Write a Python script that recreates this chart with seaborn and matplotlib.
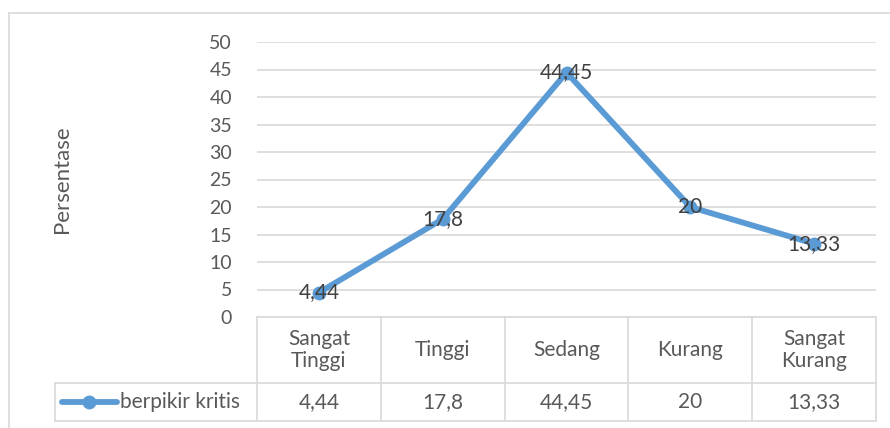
import numpy as np
import pandas as pd
import matplotlib
matplotlib.use("Agg")
import matplotlib.pyplot as plt
import matplotlib.transforms as mtransforms
from matplotlib.lines import Line2D
import seaborn as sns

# data
categories = ["Sangat\nTinggi", "Tinggi", "Sedang", "Kurang", "Sangat\nKurang"]
values = [4.44, 17.8, 44.45, 20, 13.33]
value_labels = ["4,44", "17,8", "44,45", "20", "13,33"]
series_name = "berpikir kritis"

line_color = "#5B9BD5"
grid_color = "#D9D9D9"
text_color = "#595959"

sns.set_theme(style="white")
plt.rcParams["font.family"] = ["Lato", "DejaVu Sans"]

df = pd.DataFrame({"kategori": categories, "nilai": values})

W, H = 890, 428
fig = plt.figure(figsize=(W / 100, H / 100), dpi=100)
left, right, top, bottom = 257, 876, 42, 317
ax = fig.add_axes([left / W, 1 - bottom / H, (right - left) / W, (bottom - top) / H])

sns.lineplot(data=df, x="kategori", y="nilai", ax=ax, color=line_color,
             linewidth=4.2, marker="o", markersize=10, markeredgewidth=0, sort=False)

ax.set_xlim(-0.5, len(categories) - 0.5)
ax.set_ylim(0, 50)
ax.set_yticks(range(0, 51, 5))
ax.yaxis.grid(True, color=grid_color, linewidth=1.2)
ax.xaxis.grid(False)
for s in ax.spines.values():
    s.set_visible(False)
ax.tick_params(axis="y", length=0, labelsize=14, labelcolor=text_color, pad=18)
ax.set_xticks([])
ax.set_xlabel("")
ax.set_ylabel("Persentase", fontsize=16, color=text_color)
ax.yaxis.set_label_coords((72 - left) / (right - left), 0.5)

fs = 15
# data labels centred on the points
for i, (v, lab) in enumerate(zip(values, value_labels)):
    ax.text(i, v, lab, ha="center", va="center", fontsize=fs, color="#404040")

# data table under the chart
px_per_unit = (right - left) / len(categories)
ax_h = bottom - top
tr = mtransforms.blended_transform_factory(ax.transData, ax.transAxes)
y_head = 0.0
y_mid = -(383 - bottom) / ax_h
y_bot = -(421 - bottom) / ax_h
x0 = -0.5
x_leg = x0 - (left - 55) / px_per_unit
x_end = len(categories) - 0.5

def tline(xs, ys):
    ax.add_line(Line2D(xs, ys, transform=tr, color=grid_color, linewidth=1.2, clip_on=False))

tline([x0, x_end], [y_head, y_head])
tline([x_leg, x_end], [y_mid, y_mid])
tline([x_leg, x_end], [y_bot, y_bot])
tline([x_leg, x_leg], [y_mid, y_bot])
for k in range(len(categories) + 1):
    tline([x0 + k, x0 + k], [y_head, y_bot])

for i, (cat, lab) in enumerate(zip(categories, value_labels)):
    ax.text(i, (y_head + y_mid) / 2, cat, transform=tr, ha="center", va="center",
            fontsize=fs, color=text_color, linespacing=1.15)
    ax.text(i, (y_mid + y_bot) / 2, lab, transform=tr, ha="center", va="center",
            fontsize=fs, color=text_color)

# legend key inside the table
y_key = (y_mid + y_bot) / 2
xa = x_leg + (62 - 55) / px_per_unit
xb = x_leg + (117 - 55) / px_per_unit
ax.add_line(Line2D([xa, xb], [y_key, y_key], transform=tr, color=line_color,
                   linewidth=4.2, clip_on=False, solid_capstyle="round"))
ax.add_line(Line2D([(xa + xb) / 2], [y_key], transform=tr, color=line_color,
                   marker="o", markersize=10, markeredgewidth=0, clip_on=False))
ax.text(x_leg + (120 - 55) / px_per_unit, y_key, series_name, transform=tr,
        ha="left", va="center", fontsize=fs, color=text_color)

# outer chart border (partly cropped)
fig.add_artist(Line2D([9 / W, 1], [1 - 13 / H, 1 - 13 / H], transform=fig.transFigure,
                      color=grid_color, linewidth=1.2))
fig.add_artist(Line2D([9 / W, 9 / W], [0, 1 - 13 / H], transform=fig.transFigure,
                      color=grid_color, linewidth=1.2))

fig.savefig("out.png", dpi=100)
